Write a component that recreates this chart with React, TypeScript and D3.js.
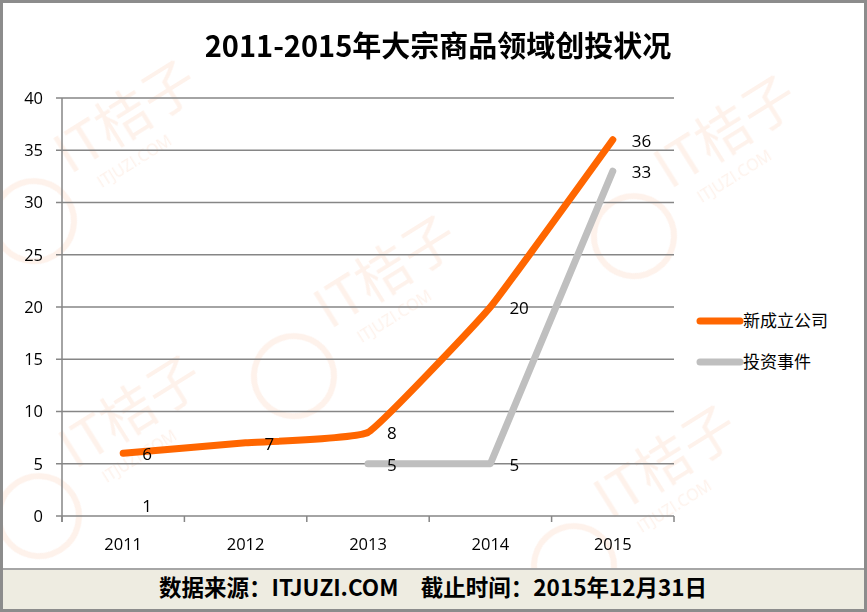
import React from "react";
import * as d3 from "d3";

const years = ["2011", "2012", "2013", "2014", "2015"];
const newCompanies: (number | null)[] = [6, 7, 8, 20, 36];
const investEvents: (number | null)[] = [1, null, 5, 5, 33];
const yTicks = [0, 5, 10, 15, 20, 25, 30, 35, 40];

const seriesList = [
  { name: "新成立公司", values: newCompanies, color: "#FF6600", smooth: true },
  { name: "投资事件", values: investEvents, color: "#BFBFBF", smooth: false },
];

const W = 867;
const H = 612;
const font = "'Open Sans', 'Noto Sans CJK SC', sans-serif";
const cjk = "'Noto Sans CJK SC', sans-serif";

// faint "IT桔子" watermarks
const marks = [
  { x: 70, y: 175 },
  { x: 330, y: 330 },
  { x: 670, y: 190 },
  { x: 75, y: 470 },
  { x: 610, y: 520 },
];

const App = () => {
  const x = d3.scaleBand<string>().domain(years).range([62, 674]);
  const y = d3.scaleLinear().domain([0, 40]).range([516, 98]);
  const cx = (d: string) => (x(d) ?? 0) + x.bandwidth() / 2;

  const lineFor = (vals: (number | null)[], smooth: boolean) =>
    d3
      .line<number | null>()
      .defined(
        (v, i) =>
          v !== null && (vals[i - 1] != null || vals[i + 1] != null)
      )
      .x((_, i) => cx(years[i]))
      .y((v) => y(v as number))
      .curve(smooth ? d3.curveCardinal.tension(0.7) : d3.curveLinear)(vals) ?? "";

  return (
    <svg
      width={W}
      height={H}
      style={{ position: "absolute", left: 0, top: 0 }}
    >
      <rect x={0} y={0} width={W} height={H} fill="#fff" />

      {/* watermarks */}
      <g opacity={0.35}>
        {marks.map((m, i) => (
          <g key={i} transform={`translate(${m.x},${m.y}) rotate(-32)`}>
            <circle cx={-55} cy={20} r={40} fill="none" stroke="#fbd9c6" strokeWidth={6} />
            <text x={0} y={0} fontFamily={cjk} fontSize={54} fill="#fbd9c6">
              IT桔子
            </text>
            <text x={20} y={28} fontFamily={font} fontSize={16} fill="#fbd9c6">
              ITJUZI.COM
            </text>
          </g>
        ))}
      </g>

      {/* title */}
      <text
        x={438}
        y={57}
        textAnchor="middle"
        fontFamily={cjk}
        fontWeight="bold"
        fontSize={29}
        fill="#000"
      >
        2011-2015年大宗商品领域创投状况
      </text>

      {/* grid + y axis */}
      {yTicks.map((t) => (
        <g key={t}>
          <line x1={56} x2={674} y1={y(t)} y2={y(t)} stroke="#868686" strokeWidth={1.5} />
          <text
            x={43}
            y={y(t)}
            dy="0.36em"
            textAnchor="end"
            fontFamily={font}
            fontSize={16.5}
            fill="#000"
          >
            {t}
          </text>
        </g>
      ))}
      <line x1={62} x2={62} y1={y(40)} y2={522} stroke="#868686" strokeWidth={1.5} />
      {years.concat(["end"]).map((d, i) => {
        const px = i < years.length ? (x(d) as number) : 674;
        return (
          <line key={i} x1={px} x2={px} y1={516} y2={522} stroke="#868686" strokeWidth={1.5} />
        );
      })}
      {years.map((d) => (
        <text
          key={d}
          x={cx(d)}
          y={550}
          textAnchor="middle"
          fontFamily={font}
          fontSize={16.5}
          fill="#000"
        >
          {d}
        </text>
      ))}

      {/* lines */}
      {seriesList.map((s) => (
        <path
          key={s.name}
          d={lineFor(s.values, s.smooth)}
          fill="none"
          stroke={s.color}
          strokeWidth={7}
          strokeLinecap="round"
          strokeLinejoin="round"
        />
      ))}

      {/* data labels */}
      {seriesList.map((s) =>
        s.values.map((v, i) =>
          v === null ? null : (
            <text
              key={s.name + i}
              x={cx(years[i]) + 19}
              y={y(v)}
              dy="0.4em"
              fontFamily={font}
              fontSize={17}
              fill="#000"
            >
              {v}
            </text>
          )
        )
      )}

      {/* legend */}
      {seriesList.map((s, i) => (
        <g key={s.name} transform={`translate(700,${321 + i * 41})`}>
          <line x1={0} x2={40} y1={0} y2={0} stroke={s.color} strokeWidth={7} strokeLinecap="round" />
          <text x={43} y={0} dy="0.36em" fontFamily={cjk} fontSize={17} fill="#000">
            {s.name}
          </text>
        </g>
      ))}

      {/* footer */}
      <rect x={0} y={569} width={W} height={40} fill="#EEECE1" />
      <line x1={0} x2={W} y1={569} y2={569} stroke="#a6a6a6" strokeWidth={2} />
      <text
        x={433}
        y={588}
        dy="0.36em"
        textAnchor="middle"
        fontFamily={cjk}
        fontWeight="bold"
        fontSize={22.5}
        fill="#000"
      >
        数据来源：ITJUZI.COM　截止时间：2015年12月31日
      </text>

      {/* frame */}
      <rect x={1.5} y={1.5} width={W - 3} height={H - 3} fill="none" stroke="#8c8c8c" strokeWidth={3} />
    </svg>
  );
};

export default App;
